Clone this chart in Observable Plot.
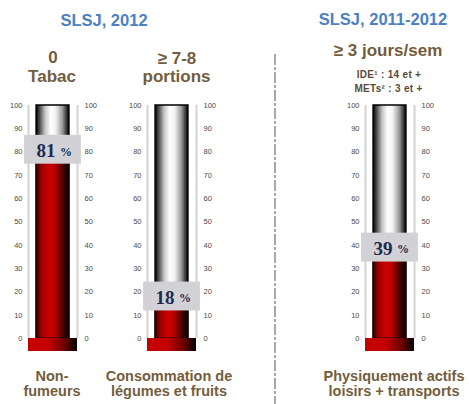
<!DOCTYPE html>
<html>
<head>
<meta charset="utf-8">
<script src="https://cdn.jsdelivr.net/npm/d3@7"></script>
<script src="https://cdn.jsdelivr.net/npm/@observablehq/plot@0.6"></script>
<style>
  html, body { margin: 0; padding: 0; background: #fff; }
  #root { position: relative; width: 469px; height: 404px; overflow: hidden; font-family: "Liberation Sans", Arial, sans-serif; }
  .lbl { position: absolute; white-space: nowrap; transform: translateX(-50%); line-height: 1; font-weight: bold; }
  .thermo { position: absolute; top: 95px; }
</style>
</head>
<body>
<div id="root">
  <svg width="0" height="0" style="position:absolute">
    <defs>
      <linearGradient id="glass" x1="0" x2="1" y1="0" y2="0">
        <stop offset="0" stop-color="#000"/>
        <stop offset="0.12" stop-color="#555"/>
        <stop offset="0.28" stop-color="#c8c8c8"/>
        <stop offset="0.45" stop-color="#fff"/>
        <stop offset="0.6" stop-color="#f0f0f0"/>
        <stop offset="0.8" stop-color="#999"/>
        <stop offset="1" stop-color="#000"/>
      </linearGradient>
      <linearGradient id="red" x1="0" x2="1" y1="0" y2="0">
        <stop offset="0" stop-color="#300000"/>
        <stop offset="0.15" stop-color="#9a0000"/>
        <stop offset="0.4" stop-color="#cc0000"/>
        <stop offset="0.55" stop-color="#c00000"/>
        <stop offset="0.8" stop-color="#500000"/>
        <stop offset="1" stop-color="#000"/>
      </linearGradient>
      <linearGradient id="base" x1="0" x2="1" y1="0" y2="0">
        <stop offset="0" stop-color="#c40000"/>
        <stop offset="0.42" stop-color="#c40000"/>
        <stop offset="0.75" stop-color="#6a0000"/>
        <stop offset="1" stop-color="#000"/>
      </linearGradient>
    </defs>
  </svg>
</div>
<script>
// ---- data ----
const groupTitles = ["SLSJ, 2012", "SLSJ, 2011-2012"];
const topLabels = [["0", "Tabac"], ["≥ 7-8", "portions"], ["≥ 3 jours/sem"]];
const notes = ["IDE¹ : 14 et +", "METs² : 3 et +"];
const categories = [["Non-", "fumeurs"], ["Consommation de", "légumes et fruits"], ["Physiquement actifs", "loisirs + transports"]];
const values = [81, 18, 39];
const yTicks = [0, 10, 20, 30, 40, 50, 60, 70, 80, 90, 100];

// ---- layout (pixels) ----
const thermoLeft = [0, 119, 337];
const root = document.getElementById("root");

function label(text, cx, baseline, fs, color, extra) {
  const d = document.createElement("div");
  d.className = "lbl";
  d.textContent = text;
  d.style.left = cx + "px";
  d.style.top = (baseline - 0.86 * fs) + "px";
  d.style.fontSize = fs + "px";
  d.style.color = color;
  if (extra) Object.assign(d.style, extra);
  root.appendChild(d);
}

const blue = "#4a80c4", brown = "#735d3d", dark = "#5b4b36";
label(groupTitles[0], 104, 26.5, 16.5, blue);
label(groupTitles[1], 383, 25.5, 16.5, blue);
label(topLabels[0][0], 53, 64, 17, brown);
label(topLabels[0][1], 52, 82.5, 17, brown);
label(topLabels[1][0], 177, 64.5, 17, brown);
label(topLabels[1][1], 176.5, 82.5, 17, brown);
label(topLabels[2][0], 388, 57, 17, brown);
label(notes[0], 389, 78.5, 10, dark, {letterSpacing: "0.3px"});
label(notes[1], 388.5, 92.5, 10, dark, {letterSpacing: "0.3px"});
const centers = [52, 169, 394];
categories.forEach((c, i) => {
  label(c[0], centers[i], 381.5, 14.5, brown);
  label(c[1], centers[i], 396.5, 14.5, brown);
});

// dashed separator
const sep = document.createElementNS("http://www.w3.org/2000/svg", "svg");
sep.setAttribute("width", 6); sep.setAttribute("height", 360);
sep.style.position = "absolute"; sep.style.left = "272px"; sep.style.top = "54px";
sep.innerHTML = '<line x1="3" x2="3" y1="0" y2="360" stroke="#a8a8a8" stroke-width="2" stroke-dasharray="11,2,3,2"/>';
root.appendChild(sep);

// thermometers
const tubeHalf = 0.67, boxHalfW = 1.16, boxHalfH = 6.2, baseDepth = -5.6;
values.forEach((v, i) => {
  const data = [{value: v}];
  const chart = Plot.plot({
    width: 105, height: 256,
    marginLeft: 28, marginRight: 28, marginTop: 10, marginBottom: 0,
    x: {domain: [-1, 1], axis: null},
    y: {domain: [baseDepth, 100]},
    marks: [
      Plot.ruleX([-1, 1], {x: d => d, y1: 0, y2: 100, stroke: "#d2d2d2", strokeWidth: 2}),
      Plot.rect([0], {x1: -tubeHalf, x2: tubeHalf, y1: 0, y2: 100, fill: "url(#glass)", stroke: "#000", strokeWidth: 1.5}),
      Plot.rect(data, {x1: -tubeHalf, x2: tubeHalf, y1: 0, y2: "value", fill: "url(#red)", stroke: "#1a0000", strokeWidth: 1}),
      Plot.rect([0], {x1: -1, x2: 1, y1: baseDepth, y2: 0, fill: "url(#base)"}),
      Plot.axisY({ticks: yTicks, anchor: "left", tickSize: 0, tickPadding: 6, fontSize: 7.5, fill: "#4a4a4a", label: null, fontFamily: "Liberation Sans"}),
      Plot.axisY({ticks: yTicks, anchor: "right", tickSize: 0, tickPadding: 7, fontSize: 7.5, fill: "#4a4a4a", label: null, fontFamily: "Liberation Sans"}),
      Plot.rect(data, {x1: -boxHalfW, x2: boxHalfW, y1: d => d.value - boxHalfH, y2: d => d.value + boxHalfH, fill: "#d1d1d6"}),
      Plot.text(data, {x: 0, y: "value", text: d => String(d.value), dx: -7, dy: 1, fontSize: 19, fontWeight: "bold", fontFamily: "Liberation Serif", fill: "#1d2a52"}),
      Plot.text(data, {x: 0, y: "value", text: () => "%", dx: 13, dy: 2, fontSize: 12, fontFamily: "Liberation Serif", fontWeight: "bold", fill: "#1d2a52"})
    ]
  });
  chart.classList.add("thermo");
  chart.style.left = thermoLeft[i] + "px";
  chart.style.background = "transparent";
  root.appendChild(chart);
});
</script>
</body>
</html>
